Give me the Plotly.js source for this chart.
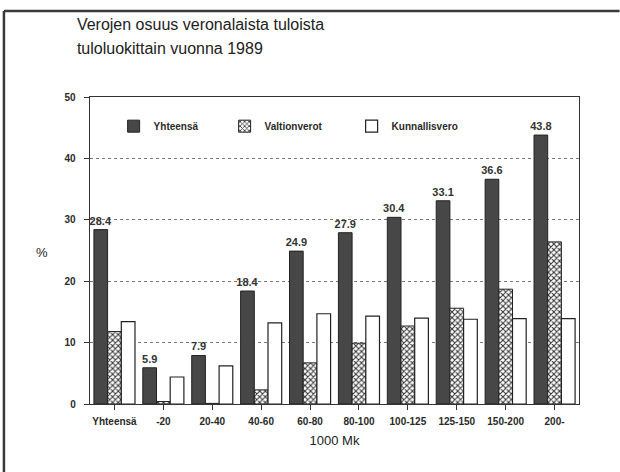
<!DOCTYPE html>
<html>
<head>
<meta charset="utf-8">
<script src="https://cdn.plot.ly/plotly-3.0.1.min.js"></script>
<style>html,body{margin:0;padding:0;background:#fff;}#chart{width:620px;height:472px;}</style>
</head>
<body>
<div id="chart"></div>
<script>
const categories = ['Yhteensä','-20','20-40','40-60','60-80','80-100','100-125','125-150','150-200','200-'];
const yhteensa = [28.4, 5.9, 7.9, 18.4, 24.9, 27.9, 30.4, 33.1, 36.6, 43.8];
const valtionverot = [11.8, 0.4, 0.1, 2.3, 6.7, 9.9, 12.7, 15.6, 18.7, 26.4];
const kunnallisvero = [13.4, 4.4, 6.2, 13.2, 14.7, 14.3, 14.0, 13.8, 13.9, 13.9];
const seriesNames = ['Yhteensä', 'Valtionverot', 'Kunnallisvero'];
const titleLines = ['Verojen osuus veronalaista tuloista', 'tuloluokittain vuonna 1989'];

const FONT = 'Liberation Sans, Arial, sans-serif';
const INK = '#2a2a2a';

const traces = [
  {
    type: 'bar', name: seriesNames[0], x: categories, y: yhteensa, legend: 'legend',
    marker: {color: '#474747', line: {color: '#222', width: 1}},
    text: yhteensa.map(v => v.toFixed(1)), textposition: 'outside', constraintext: 'none',
    textfont: {family: FONT, size: 11, color: '#333', weight: 'bold'},
    cliponaxis: false, hoverinfo: 'skip'
  },
  {
    type: 'bar', name: seriesNames[1], x: categories, y: valtionverot, legend: 'legend2',
    marker: {color: '#fff', line: {color: '#222', width: 1},
      pattern: {shape: 'x', size: 4, solidity: 0.45, fgcolor: '#333', bgcolor: '#fff'}},
    hoverinfo: 'skip'
  },
  {
    type: 'bar', name: seriesNames[2], x: categories, y: kunnallisvero, legend: 'legend3',
    marker: {color: '#fff', line: {color: '#222', width: 1.2}},
    hoverinfo: 'skip'
  }
];

const legendBase = {
  orientation: 'h', xanchor: 'left', y: 0.905, yanchor: 'middle',
  bgcolor: 'rgba(0,0,0,0)',
  font: {family: FONT, size: 10, color: INK, weight: 'bold'}
};

const layout = {
  width: 620, height: 472,
  margin: {l: 90, r: 41, t: 97, b: 68},
  paper_bgcolor: '#fff', plot_bgcolor: '#fff',
  font: {family: FONT, color: INK},
  barmode: 'group', bargap: 0.16, bargroupgap: 0,
  showlegend: true,
  title: {
    text: titleLines.map(s => '<span style="font-size:16px">' + s + '</span>').join('<br>'),
    font: {family: FONT, size: 18.5, color: '#222'},
    xref: 'container', yref: 'container', x: 0.124, xanchor: 'left',
    y: 0.937, yanchor: 'top'
  },
  legend: Object.assign({}, legendBase, {x: 0.0483}),
  legend2: Object.assign({}, legendBase, {x: 0.2753}),
  legend3: Object.assign({}, legendBase, {x: 0.535}),
  xaxis: {
    type: 'category', range: [-0.5, 9.5],
    showline: true, linecolor: '#333', linewidth: 1.3, mirror: true,
    ticks: 'outside', ticklen: 5, tickcolor: '#333', ticklabelstandoff: 3,
    tickfont: {family: FONT, size: 10, color: INK, weight: 'bold'},
    title: {text: '1000 Mk', font: {family: FONT, size: 13, color: '#222'}, standoff: 9},
    showgrid: false, zeroline: false
  },
  yaxis: {
    range: [0, 50], dtick: 10,
    showline: true, linecolor: '#333', linewidth: 1.3, mirror: true,
    ticks: 'outside', ticklen: 5, tickcolor: '#333', ticklabelstandoff: 6,
    tickfont: {family: FONT, size: 10, color: INK, weight: 'bold'},
    showgrid: true, gridcolor: '#777', griddash: 'dot', gridwidth: 1,
    zeroline: false
  },
  annotations: [
    {text: '%', xref: 'paper', yref: 'paper', x: -0.098, y: 0.495, xanchor: 'center', yanchor: 'middle',
     showarrow: false, font: {family: FONT, size: 13, color: '#222'}}
  ],
  shapes: [
    {type: 'line', xref: 'paper', yref: 'paper', x0: -0.176, x1: -0.176, y0: -0.35, y1: 1.28,
     line: {color: '#3a3a3a', width: 2.5}},
    {type: 'line', xref: 'paper', yref: 'paper', x0: -0.176, x1: 1.0, y0: 1.28, y1: 1.28,
     line: {color: '#3a3a3a', width: 2.5}},
    {type: 'line', xref: 'paper', yref: 'paper', x0: 1.0, x1: 1.083, y0: 1.28, y1: 1.28,
     line: {color: '#3a3a3a', width: 2.5}}
  ]
};

Plotly.newPlot('chart', traces, layout, {displayModeBar: false, staticPlot: true});
</script>
</body>
</html>
